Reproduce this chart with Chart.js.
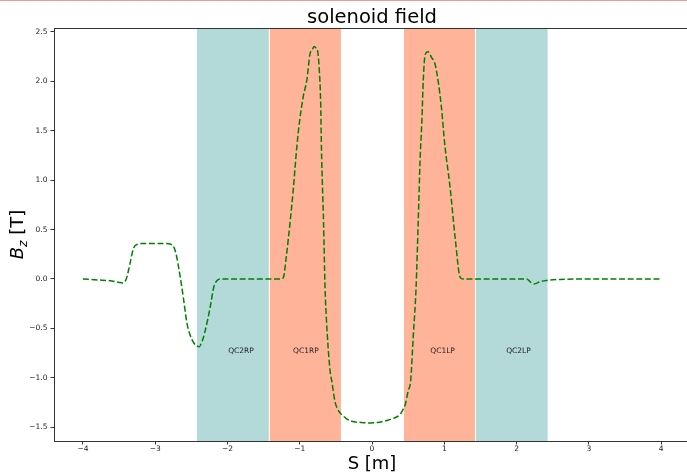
<!DOCTYPE html>
<html>
<head>
<meta charset="utf-8">
<script src="https://cdn.jsdelivr.net/npm/chart.js@4"></script>
<style>
  html, body { margin: 0; padding: 0; background: #fff; overflow: hidden; }
  #topline { position: absolute; left: 0; top: 0; width: 687px; height: 1px; background: rgb(240, 150, 150); z-index: 2; }
  #wrap { position: relative; width: 691px; height: 473px; }
</style>
</head>
<body>
<div id="topline"></div>
<div id="wrap"><canvas id="chart-solenoid" width="691" height="473"></canvas></div>
<script>
// solenoid field Bz along S
const sPos = [
  -4.0, -3.8, -3.6, -3.5, -3.45, -3.4, -3.35, -3.3, -3.25, -3.15, -3.0, -2.85,
  -2.78, -2.74, -2.71, -2.66, -2.61, -2.56, -2.52, -2.48, -2.44, -2.39, -2.35,
  -2.31, -2.24, -2.19, -2.15, -2.1, -1.9, -1.5, -1.25, -1.22, -1.19, -1.16,
  -1.09, -1.04, -1.0, -0.95, -0.9, -0.86, -0.82, -0.8, -0.775, -0.755, -0.73,
  -0.71, -0.7, -0.67, -0.65, -0.63, -0.58, -0.557, -0.51, -0.48, -0.44, -0.36, -0.28,
  -0.15, -0.03, 0.1, 0.2, 0.3, 0.39, 0.43, 0.46, 0.5, 0.535, 0.57, 0.61, 0.64,
  0.665, 0.69, 0.71, 0.735, 0.775, 0.825, 0.87, 0.92, 0.96, 1.01, 1.08, 1.15,
  1.22, 1.26, 1.6, 2.0, 2.14, 2.19, 2.24, 2.32, 2.41, 2.6, 3.0, 3.5, 4.0,
];
const bzVals = [
  0.0, -0.01, -0.02, -0.035, -0.04, 0.0, 0.15, 0.31, 0.35, 0.36, 0.36, 0.36,
  0.35, 0.32, 0.25, 0.05, -0.19, -0.45, -0.56, -0.63, -0.67, -0.685, -0.63,
  -0.53, -0.29, -0.085, -0.02, 0.0, 0.0, 0.0, 0.0, 0.03, 0.2, 0.39,
  0.9, 1.34, 1.61, 1.85, 2.02, 2.27, 2.33, 2.354, 2.34, 2.32, 2.12,
  1.78, 1.34, 0.56, -0.08, -0.42, -0.93, -1.03, -1.25, -1.31, -1.356, -1.41, -1.44,
  -1.452, -1.457, -1.45, -1.433, -1.41, -1.37, -1.32, -1.27, -1.135, -1.03, -0.59, -0.085, 0.59,
  1.2, 1.6, 2.02, 2.27, 2.3, 2.24, 2.18, 1.98, 1.74, 1.34, 0.93, 0.42,
  0.016, 0.0, 0.0, 0.0, 0.0, -0.03, -0.05, -0.03, -0.015, -0.005, 0.0, 0.0, 0.0,
];

// magnet regions
const magnetNames = ["QC2RP", "QC1RP", "QC1LP", "QC2LP"];
const magnetStart = [-2.43, -1.43, 0.43, 1.43];
const magnetEnd = [-1.43, -0.43, 1.43, 2.43];
const magnetLabelS = [-1.99, -1.093, 0.806, 1.857];
const magnetLabelBz = -0.75;

const xTicks = [-4, -3, -2, -1, 0, 1, 2, 3, 4];
const yTicks = [-1.5, -1.0, -0.5, 0.0, 0.5, 1.0, 1.5, 2.0, 2.5];

const FONT = "'DejaVu Sans', sans-serif";
const quadColor = ["rgb(179, 217, 217)", "rgb(255, 180, 153)", "rgb(255, 180, 153)", "rgb(179, 217, 217)"];

const minus = (s) => s.replace("-", "\u2212");

// shaded magnet bands behind the curve
const bandsPlugin = {
  id: "bands",
  beforeDatasetsDraw(chart) {
    const { ctx, chartArea, scales } = chart;
    ctx.save();
    for (let i = 0; i < magnetNames.length; i++) {
      const x0 = scales.x.getPixelForValue(magnetStart[i]);
      const x1 = scales.x.getPixelForValue(magnetEnd[i]);
      ctx.fillStyle = quadColor[i];
      ctx.fillRect(x0, chartArea.top, x1 - x0, chartArea.bottom - chartArea.top);
    }
    ctx.strokeStyle = "#fff";
    ctx.lineWidth = 1;
    for (let i = 0; i < magnetNames.length; i++) {
      [magnetStart[i], magnetEnd[i]].forEach((v) => {
        const px = Math.round(scales.x.getPixelForValue(v)) + 0.5;
        ctx.beginPath();
        ctx.moveTo(px, chartArea.top);
        ctx.lineTo(px, chartArea.bottom);
        ctx.stroke();
      });
    }
    ctx.fillStyle = "#222";
    ctx.font = "7.5px " + FONT;
    ctx.textAlign = "left";
    ctx.textBaseline = "alphabetic";
    for (let i = 0; i < magnetNames.length; i++) {
      ctx.fillText(
        magnetNames[i],
        scales.x.getPixelForValue(magnetLabelS[i]),
        scales.y.getPixelForValue(magnetLabelBz)
      );
    }
    ctx.restore();
  },
  afterDraw(chart) {
    const { ctx, chartArea } = chart;
    ctx.save();
    // top spine
    ctx.strokeStyle = "#333";
    ctx.lineWidth = 1;
    ctx.beginPath();
    ctx.moveTo(chartArea.left, chartArea.top + 0.5);
    ctx.lineTo(chartArea.right, chartArea.top + 0.5);
    ctx.stroke();

    ctx.fillStyle = "#000";
    // title
    ctx.font = "19.5px " + FONT;
    ctx.textAlign = "center";
    ctx.textBaseline = "alphabetic";
    const cx = (chartArea.left + chartArea.right) / 2;
    ctx.fillText("solenoid field", cx, 23);
    // x title
    ctx.font = "18px " + FONT;
    ctx.fillText("S [m]", cx, 469);
    // y title: B_z [T]
    ctx.translate(23, (chartArea.top + chartArea.bottom) / 2);
    ctx.rotate(-Math.PI / 2);
    ctx.textAlign = "left";
    const fB = "italic 18px " + FONT;
    const fz = "italic 12.5px " + FONT;
    const fT = "18px " + FONT;
    ctx.font = fB; const wB = ctx.measureText("B").width;
    ctx.font = fz; const wz = ctx.measureText("z").width;
    ctx.font = fT; const wT = ctx.measureText(" [T]").width;
    let x = -(wB + wz + wT) / 2;
    ctx.font = fB; ctx.fillText("B", x, 0); x += wB;
    ctx.font = fz; ctx.fillText("z", x, 4); x += wz;
    ctx.font = fT; ctx.fillText(" [T]", x, 0);
    ctx.restore();
  },
};

const ctx = document.getElementById("chart-solenoid").getContext("2d");
new Chart(ctx, {
  type: "line",
  data: {
    datasets: [
      {
        data: sPos.map((s, i) => ({ x: s, y: bzVals[i] })),
        borderColor: "#008000",
        borderWidth: 1.5,
        borderDash: [6, 2.6],
        pointRadius: 0,
        fill: false,
        cubicInterpolationMode: "monotone",
      },
    ],
  },
  options: {
    responsive: false,
    animation: false,
    layout: { padding: { top: 28, left: 0, right: 1, bottom: 0 } },
    plugins: {
      legend: { display: false },
      tooltip: { enabled: false },
    },
    scales: {
      x: {
        type: "linear",
        min: -4.4,
        max: 4.4,
        afterFit: (scale) => { scale.height = 32; },
        afterBuildTicks: (scale) => { scale.ticks = xTicks.map((v) => ({ value: v })); },
        grid: { drawOnChartArea: false, drawTicks: true, tickLength: 3.5, color: "#333" },
        border: { display: true, color: "#333", width: 1 },
        ticks: {
          color: "#222",
          padding: 0,
          maxRotation: 0,
          font: { size: 7.5, family: FONT },
          callback: (v) => minus(String(v)),
        },
      },
      y: {
        type: "linear",
        min: -1.64,
        max: 2.54,
        afterFit: (scale) => { scale.width = 54; },
        afterBuildTicks: (scale) => { scale.ticks = yTicks.map((v) => ({ value: v })); },
        grid: { drawOnChartArea: false, drawTicks: true, tickLength: 3.5, color: "#333" },
        border: { display: true, color: "#333", width: 1 },
        ticks: {
          color: "#222",
          padding: 3,
          font: { size: 7.5, family: FONT },
          callback: (v) => minus(v.toFixed(1)),
        },
      },
    },
  },
  plugins: [bandsPlugin],
});
</script>
</body>
</html>
